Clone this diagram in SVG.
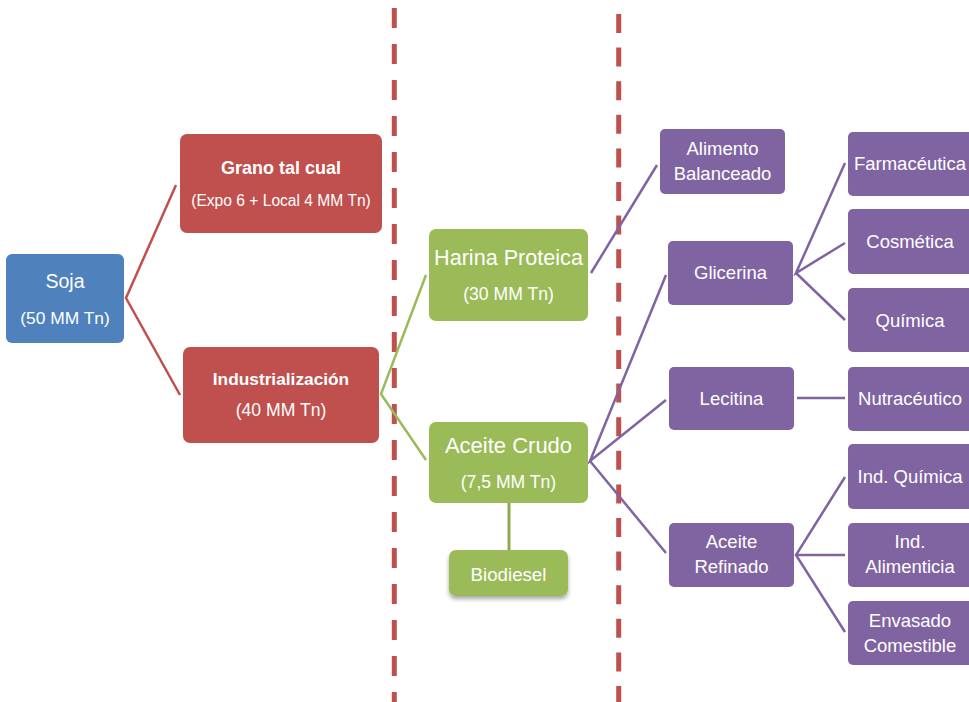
<svg xmlns="http://www.w3.org/2000/svg" width="969" height="702" viewBox="0 0 969 702">
<defs>
<style>
.t{font-family:"Liberation Sans",Arial,sans-serif;fill:#FFFFFF;text-anchor:middle}
.b{font-weight:bold}
.blue{fill:#4F81BD}
.red{fill:#C0504D}
.green{fill:#9BBB59}
.purple{fill:#8064A2}
.cr{stroke:#C0504D;stroke-width:2.5;fill:none}
.cg{stroke:#9BBB59;stroke-width:2.5;fill:none}
.cg2{stroke:#8CAA50;stroke-width:3;fill:none}
.cp{stroke:#8064A2;stroke-width:2.5;fill:none}
.dash{stroke:#C0504D;stroke-width:5;fill:none}
.p{font-size:18.5px}
</style>
<filter id="sh" x="-20%" y="-20%" width="140%" height="160%">
<feGaussianBlur in="SourceAlpha" stdDeviation="2"/>
<feOffset dx="0" dy="3" result="o"/>
<feComponentTransfer><feFuncA type="linear" slope="0.35"/></feComponentTransfer>
<feMerge><feMergeNode/><feMergeNode in="SourceGraphic"/></feMerge>
</filter>
</defs>
<rect width="969" height="702" fill="#FFFFFF"/>

<g id="dividers">
<line class="dash" x1="394.3" y1="8" x2="394.3" y2="702" stroke-dasharray="20 16"/>
<line class="dash" x1="618.7" y1="14" x2="618.7" y2="702" stroke-dasharray="19 14.6"/>
</g>

<g id="connectors">
<polyline class="cr" points="176,185 126,298 180,395"/>
<polyline class="cg" points="426,275 381,394 426,460"/>
<line class="cg2" x1="509" y1="503" x2="509" y2="552"/>
<line class="cp" x1="591" y1="273" x2="657" y2="165"/>
<polyline class="cp" points="666,275 590,461 666,400"/>
<line class="cp" x1="590" y1="461" x2="666" y2="553"/>
<polyline class="cp" points="845,163 796,273 845,243"/>
<line class="cp" x1="796" y1="273" x2="845" y2="320"/>
<line class="cp" x1="797" y1="398" x2="845" y2="398"/>
<polyline class="cp" points="845,477 796,555 845,632"/>
<line class="cp" x1="796" y1="555" x2="845" y2="555"/>
</g>

<g id="soja">
<rect class="blue" x="6" y="254" width="118" height="89" rx="6"/>
<text class="t" x="65" y="288" font-size="19.5">Soja</text>
<text class="t" x="65" y="324" font-size="17.4">(50 MM Tn)</text>
</g>

<g id="grano">
<rect class="red" x="180" y="134" width="202" height="99" rx="7"/>
<text class="t b" x="281" y="174" font-size="18">Grano tal cual</text>
<text class="t" x="281" y="206" font-size="15.6">(Expo 6 + Local 4 MM Tn)</text>
</g>

<g id="industrializacion">
<rect class="red" x="183" y="347" width="196" height="96" rx="7"/>
<text class="t b" x="281" y="385" font-size="17.3">Industrialización</text>
<text class="t" x="281" y="416" font-size="17.6">(40 MM Tn)</text>
</g>

<g id="harina">
<rect class="green" x="429" y="229" width="159" height="92" rx="7"/>
<text class="t" x="508.5" y="265" font-size="21.6">Harina Proteica</text>
<text class="t" x="508.5" y="300" font-size="17.6">(30 MM Tn)</text>
</g>

<g id="aceite-crudo">
<rect class="green" x="429" y="422" width="159" height="81" rx="7"/>
<text class="t" x="508.5" y="453" font-size="22">Aceite Crudo</text>
<text class="t" x="508.5" y="488" font-size="17.6">(7,5 MM Tn)</text>
</g>

<g id="biodiesel">
<rect class="green" x="449" y="550" width="119" height="46" rx="7" filter="url(#sh)"/>
<text class="t" x="508.5" y="581" font-size="18.7">Biodiesel</text>
</g>

<g id="alimento">
<rect class="purple" x="660" y="129" width="125" height="65" rx="5"/>
<text class="t p" x="722.5" y="155">Alimento</text>
<text class="t p" x="722.5" y="180">Balanceado</text>
</g>

<g id="glicerina">
<rect class="purple" x="668" y="241" width="125" height="64" rx="5"/>
<text class="t p" x="730.5" y="279">Glicerina</text>
</g>

<g id="lecitina">
<rect class="purple" x="669" y="367" width="125" height="63" rx="5"/>
<text class="t p" x="731.5" y="405">Lecitina</text>
</g>

<g id="aceite-refinado">
<rect class="purple" x="669" y="523" width="125" height="64" rx="5"/>
<text class="t p" x="731.5" y="548">Aceite</text>
<text class="t p" x="731.5" y="573">Refinado</text>
</g>

<g id="farmaceutica">
<rect class="purple" x="848" y="132" width="125" height="64" rx="5"/>
<text class="t p" x="910" y="170">Farmacéutica</text>
</g>

<g id="cosmetica">
<rect class="purple" x="848" y="209" width="125" height="65" rx="5"/>
<text class="t p" x="910" y="248">Cosmética</text>
</g>

<g id="quimica">
<rect class="purple" x="848" y="288" width="125" height="64" rx="5"/>
<text class="t p" x="910" y="327">Química</text>
</g>

<g id="nutraceutico">
<rect class="purple" x="848" y="367" width="125" height="64" rx="5"/>
<text class="t p" x="910" y="405">Nutracéutico</text>
</g>

<g id="ind-quimica">
<rect class="purple" x="848" y="444" width="125" height="65" rx="5"/>
<text class="t p" x="910" y="483">Ind. Química</text>
</g>

<g id="ind-alimenticia">
<rect class="purple" x="848" y="523" width="125" height="64" rx="5"/>
<text class="t p" x="910" y="548">Ind.</text>
<text class="t p" x="910" y="573">Alimenticia</text>
</g>

<g id="envasado">
<rect class="purple" x="848" y="601" width="125" height="64" rx="5"/>
<text class="t p" x="910" y="627">Envasado</text>
<text class="t p" x="910" y="652">Comestible</text>
</g>
</svg>
